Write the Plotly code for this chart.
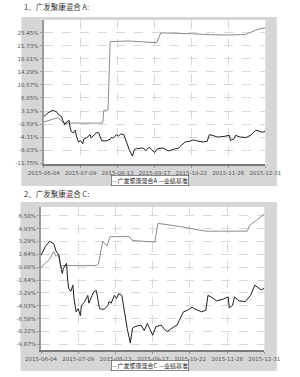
import plotly.graph_objects as go

# ---------------- data ----------------
bench_dates = ["2015-06-04","2015-06-08","2015-06-12","2015-06-16","2015-06-18","2015-06-21","2015-06-22",
               "2015-06-24","2015-06-25","2015-06-28","2015-06-29","2015-06-30","2015-07-02","2015-07-04",
               "2015-07-05","2015-07-07","2015-07-09","2015-07-11","2015-07-12","2015-07-15","2015-07-18",
               "2015-07-19","2015-07-22","2015-07-24","2015-07-26","2015-07-29","2015-08-01","2015-08-03",
               "2015-08-06","2015-08-07","2015-08-09","2015-08-12","2015-08-14","2015-08-16","2015-08-19",
               "2015-08-22","2015-08-24","2015-08-27","2015-08-29","2015-08-31","2015-09-06","2015-09-09",
               "2015-09-12","2015-09-14","2015-09-17","2015-09-20","2015-09-25","2015-09-29","2015-10-01",
               "2015-10-05","2015-10-10","2015-10-12","2015-10-16","2015-10-20","2015-10-24","2015-10-26",
               "2015-11-02","2015-11-06","2015-11-08","2015-11-12","2015-11-16","2015-11-22","2015-11-27",
               "2015-11-28","2015-12-01","2015-12-03","2015-12-07","2015-12-13","2015-12-18","2015-12-22",
               "2015-12-24","2015-12-28","2015-12-31"]
bench_vals = [1.5, 2.6, 3.3, 3.0, 2.1, 1.5, 0.5,
              -0.8, -0.2, 0.5, -1.5, -2.7, -3.1, -2.3,
              -4.0, -5.7, -5.3, -6.2, -4.9, -4.4, -3.6,
              -4.6, -3.6, -3.1, -3.0, -5.3, -5.4, -5.3,
              -4.9, -4.4, -4.6, -3.6, -4.0, -3.4, -3.6,
              -6.2, -7.8, -9.7, -7.8, -7.6, -7.4, -8.1,
              -7.2, -7.8, -8.7, -7.6, -7.4, -8.1, -8.2,
              -7.8, -7.4, -6.8, -5.7, -5.5, -5.1, -5.3,
              -5.7, -5.5, -3.6, -3.9, -4.3, -4.1, -3.8,
              -5.2, -4.9, -3.8, -4.3, -4.4, -3.6, -2.3,
              -2.5, -2.9, -2.7]

fund_a_dates = ["2015-06-04","2015-06-12","2015-06-18","2015-06-20","2015-06-24","2015-07-30","2015-07-31",
                "2015-08-04","2015-08-06","2015-08-23","2015-09-12","2015-09-19","2015-09-23","2015-09-30",
                "2015-10-17","2015-11-09","2015-11-22","2015-12-12","2015-12-18","2015-12-23","2015-12-31"]
fund_a_vals = [0.0, 0.8, 1.3, 0.5, -0.3, -0.3, 3.3,
               3.4, 22.9, 23.1, 22.7, 22.6, 25.4, 25.4,
               25.2, 24.9, 24.8, 24.9, 25.7, 26.3, 26.9]

fund_c_dates = ["2015-06-04","2015-06-08","2015-06-12","2015-06-16","2015-06-18","2015-06-20","2015-06-22",
                "2015-06-23","2015-06-24","2015-07-26","2015-07-28","2015-07-30","2015-08-01","2015-08-03",
                "2015-08-05","2015-08-08","2015-08-26","2015-08-29","2015-09-15","2015-09-19","2015-09-22",
                "2015-10-12","2015-11-06","2015-12-15","2015-12-17","2015-12-22","2015-12-31"]
fund_c_vals = [0.0, 0.5, 1.0, 2.0, 1.4, 1.6, 0.6,
               0.0, 0.2, 0.2, 0.4, 2.0, 3.3, 3.0,
               2.7, 3.9, 3.9, 3.4, 3.25, 3.2, 5.6,
               5.2, 4.6, 4.6, 5.3, 5.8, 6.8]

x_ticks = ["2015-06-04","2015-07-09","2015-08-13","2015-09-17","2015-10-22","2015-11-26","2015-12-31"]
y_ticks_a = [25.45, 21.73, 18.01, 14.29, 10.57, 6.85, 3.13, -0.59, -4.31, -8.03, -11.75]
y_ticks_c = [6.58, 4.93, 3.29, 1.64, 0.00, -1.64, -3.29, -4.93, -6.58, -8.22, -9.87]

titles = ["1、广发聚康混合 A:", "2、广发聚康混合 C:"]
fund_names = ["广发聚康混合A", "广发聚康混合C"]
bench_name = "业绩基准"

# ---------------- figure ----------------
W, H = 300, 377
FUND_COLOR = "#8a8a8a"
BENCH_COLOR = "#1e1e1e"

def px(x):
    return x / W

def py(y):
    return 1 - y / H

fig = go.Figure()

fig.add_trace(go.Scatter(x=fund_a_dates, y=fund_a_vals, mode="lines", name=fund_names[0],
                         line=dict(color=FUND_COLOR, width=1), xaxis="x", yaxis="y", showlegend=False))
fig.add_trace(go.Scatter(x=bench_dates, y=bench_vals, mode="lines", name=bench_name,
                         line=dict(color=BENCH_COLOR, width=1), xaxis="x", yaxis="y", showlegend=False))
fig.add_trace(go.Scatter(x=fund_c_dates, y=fund_c_vals, mode="lines", name=fund_names[1],
                         line=dict(color=FUND_COLOR, width=1), xaxis="x2", yaxis="y2", showlegend=False))
fig.add_trace(go.Scatter(x=bench_dates, y=bench_vals, mode="lines", name=bench_name,
                         line=dict(color=BENCH_COLOR, width=1), xaxis="x2", yaxis="y2", showlegend=False))

tick_font = dict(family="DejaVu Sans", size=5.5, color="#555555")
common_x = dict(type="date", tickvals=x_ticks, ticktext=x_ticks, range=["2015-06-04", "2015-12-31"],
                showgrid=True, gridcolor="#d8d8d8", griddash="dash", gridwidth=1,
                showline=True, linecolor="#7a7a7a", linewidth=2, ticks="outside", ticklen=2,
                tickcolor="#999999", tickfont=tick_font, zeroline=False, fixedrange=True)
common_y = dict(showgrid=True, gridcolor="#d8d8d8", griddash="dash", gridwidth=1,
                showline=True, linecolor="#9a9a9a", linewidth=2, ticks="outside", ticklen=2,
                tickcolor="#999999", tickfont=tick_font, zeroline=False, fixedrange=True)

# plot areas (pixel boxes)
box_a = (31, 20, 279, 165)
box_c = (28, 208, 278, 352)

fig.update_layout(
    width=W, height=H, autosize=False,
    margin=dict(l=0, r=0, t=0, b=0),
    paper_bgcolor="white", plot_bgcolor="rgba(0,0,0,0)",
    xaxis=dict(domain=[px(box_a[0]), px(box_a[2])], anchor="y", **common_x),
    yaxis=dict(domain=[py(box_a[3]), py(box_a[1])], anchor="x", range=[-12.0, 29.1],
               tickvals=y_ticks_a, ticktext=[f"{v:.2f}%" for v in y_ticks_a], **common_y),
    xaxis2=dict(domain=[px(box_c[0]), px(box_c[2])], anchor="y2", **common_x),
    yaxis2=dict(domain=[py(box_c[3]), py(box_c[1])], anchor="x2", range=[-10.6, 7.7],
                tickvals=y_ticks_c, ticktext=[f"{v:.2f}%" for v in y_ticks_c], **common_y),
)

shapes = []
# gray panels
for (x0, y0, x1, y1) in [(6, 17, 292, 187), (5, 203, 292, 373)]:
    shapes.append(dict(type="rect", xref="paper", yref="paper", x0=px(x0), x1=px(x1), y0=py(y1), y1=py(y0),
                       fillcolor="#d6d6d6", line=dict(width=0), layer="below"))
# white plot areas
for (x0, y0, x1, y1) in [box_a, box_c]:
    shapes.append(dict(type="rect", xref="paper", yref="paper", x0=px(x0), x1=px(x1), y0=py(y1), y1=py(y0),
                       fillcolor="white", line=dict(width=0), layer="below"))
fig.update_layout(shapes=shapes)

title_font = dict(family="Noto Sans CJK SC", size=7.5, color="#333333")
legend_font = dict(family="Noto Sans CJK SC", size=6, color="#222222")
annotations = []
for t, ty in zip(titles, [7, 195]):
    annotations.append(dict(text=t, xref="paper", yref="paper", x=px(7), y=py(ty), xanchor="left",
                            yanchor="middle", showarrow=False, font=title_font))
for name, ly in zip(fund_names, [181, 367]):
    txt = (f"<span style='color:{FUND_COLOR}'>—</span>{name} "
           f"<span style='color:{BENCH_COLOR}'>—</span>{bench_name}")
    annotations.append(dict(text=txt, xref="paper", yref="paper", x=px(150), y=py(ly), xanchor="center",
                            yanchor="middle", showarrow=False, font=legend_font, bgcolor="white",
                            bordercolor="#444444", borderwidth=0.6, borderpad=0.5))
fig.update_layout(annotations=annotations)

fig.write_html("out.html")
